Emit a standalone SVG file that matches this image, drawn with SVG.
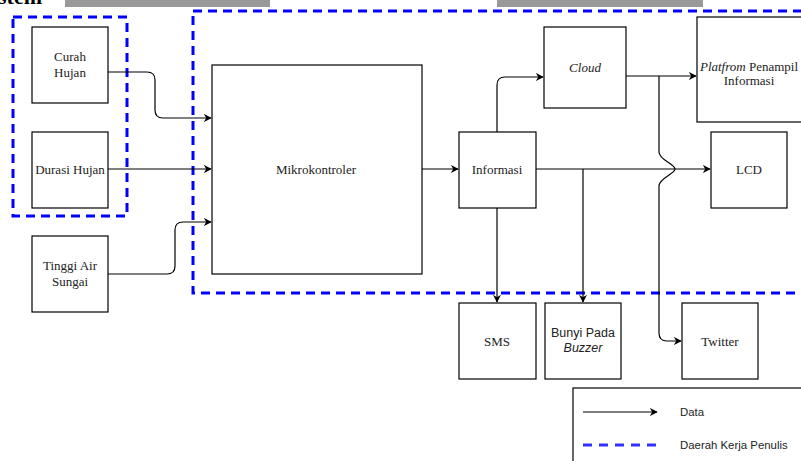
<svg xmlns="http://www.w3.org/2000/svg" width="801" height="461" viewBox="0 0 801 461">
<defs>
<marker id="ah" viewBox="0 0 10 10" refX="9" refY="5" markerWidth="8" markerHeight="8" markerUnits="userSpaceOnUse" orient="auto"><path d="M0,0 L10,5 L0,10 L3,5 Z" fill="#000"/></marker>
</defs>
<style>
.box{fill:#fff;stroke:#000;stroke-width:1.2}
.t{font-family:"Liberation Serif","Times New Roman",serif;font-size:13px;fill:#222;text-anchor:middle;dominant-baseline:central}
.s{font-family:"Liberation Sans",Arial,sans-serif;font-size:12.5px;fill:#222;text-anchor:middle;dominant-baseline:central}
.lg{font-family:"Liberation Sans",Arial,sans-serif;font-size:11.4px;fill:#222;dominant-baseline:central}
.c{fill:none;stroke:#000;stroke-width:1.2}
.zone{fill:none;stroke:#0000ff;stroke-width:3;stroke-dasharray:9 6}
</style>
<rect width="801" height="461" fill="#fff"/>
<text x="-2" y="4" font-family="Liberation Serif,serif" font-weight="bold" font-size="22" fill="#000">stem</text>
<rect x="65" y="0" width="205" height="7" fill="#999"/>
<rect x="497" y="0" width="206" height="7" fill="#999"/>

<g id="zones">
<rect class="zone" x="13" y="17" width="114" height="199"/>
<rect class="zone" x="193" y="11" width="640" height="282"/>
</g>

<g id="connectors">
<path class="c" d="M108,72 H147 Q155,72 155,80 V110 Q155,118 163,118 H211" marker-end="url(#ah)"/>
<path class="c" d="M108,169 H211" marker-end="url(#ah)"/>
<path class="c" d="M108,274 H167 Q175,274 175,266 V230 Q175,222 183,222 H211" marker-end="url(#ah)"/>
<path class="c" d="M422,169 H458" marker-end="url(#ah)"/>
<path class="c" d="M497,132 V85 Q497,77 505,77 H543" marker-end="url(#ah)"/>
<path class="c" d="M626,76 H696" marker-end="url(#ah)"/>
<path class="c" d="M536,169 H710" marker-end="url(#ah)"/>
<path class="c" d="M497,208 V302" marker-end="url(#ah)"/>
<path class="c" d="M583,169 V302" marker-end="url(#ah)"/>
<path class="c" d="M659,76 V152 C659,160 675,164 675,169 C675,174 659,178 659,186 V333 Q659,341 667,341 H681" marker-end="url(#ah)"/>
</g>

<g id="curah"><rect class="box" x="32" y="27" width="76" height="76"/><text class="t" x="70" y="56">Curah</text><text class="t" x="70" y="72">Hujan</text></g>
<g id="durasi"><rect class="box" x="32" y="132" width="76" height="76"/><text class="t" x="70" y="169">Durasi Hujan</text></g>
<g id="tinggi"><rect class="box" x="32" y="236" width="76" height="76"/><text class="t" x="70" y="265">Tinggi Air</text><text class="t" x="70" y="281">Sungai</text></g>
<g id="mikro"><rect class="box" x="212" y="65" width="210" height="209"/><text class="t" x="316" y="169">Mikrokontroler</text></g>
<g id="informasi"><rect class="box" x="459" y="132" width="77" height="76"/><text class="t" x="497" y="169">Informasi</text></g>
<g id="cloud"><rect class="box" x="544" y="27" width="82" height="81"/><text class="t" x="585" y="67" font-style="italic">Cloud</text></g>
<g id="platform"><rect class="box" x="697" y="17" width="106" height="105"/><text class="t" x="749" y="66"><tspan font-style="italic">Platfrom</tspan> Penampil</text><text class="t" x="749" y="80">Informasi</text></g>
<g id="lcd"><rect class="box" x="711" y="132" width="76" height="76"/><text class="t" x="749" y="169">LCD</text></g>
<g id="sms"><rect class="box" x="459" y="303" width="77" height="76"/><text class="t" x="497" y="341">SMS</text></g>
<g id="buzzer"><rect class="box" x="545" y="303" width="76" height="76"/><text class="s" x="583" y="333">Bunyi Pada</text><text class="s" x="583" y="348" font-style="italic">Buzzer</text></g>
<g id="twitter"><rect class="box" x="682" y="303" width="76" height="76"/><text class="t" x="720" y="341">Twitter</text></g>

<g id="legend">
<rect class="box" x="573" y="388" width="240" height="80"/>
<path class="c" d="M583,412 H657" marker-end="url(#ah)"/>
<text class="lg" x="680" y="412">Data</text>
<path d="M583,445 H658" stroke="#3333ff" stroke-width="3" stroke-dasharray="9 7" fill="none"/>
<text class="lg" x="680" y="445">Daerah Kerja Penulis</text>
</g>
</svg>
